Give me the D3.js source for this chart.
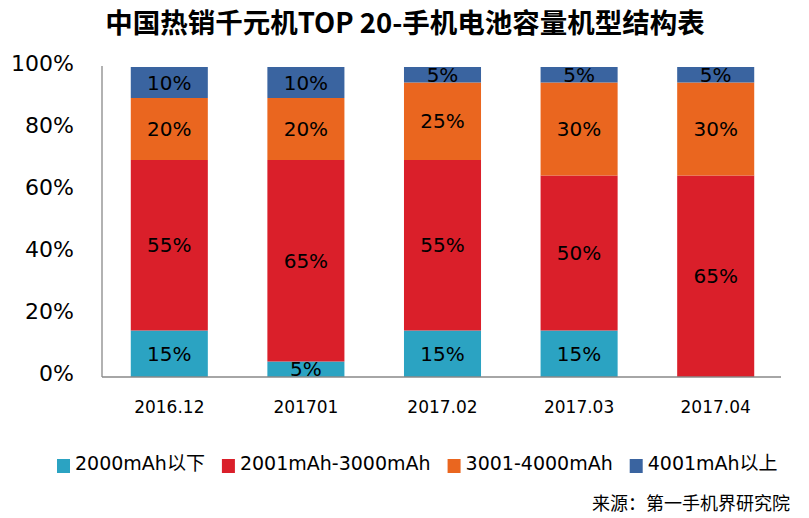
<!DOCTYPE html>
<html>
<head>
<meta charset="utf-8">
<script src="https://d3js.org/d3.v7.min.js"></script>
<style>
  body { margin: 0; background: #fff; }
  text { font-family: "DejaVu Sans", "Noto Sans CJK SC", sans-serif; }
</style>
</head>
<body>
<div id="chart"></div>
<script>
var categories = ["2016.12", "201701", "2017.02", "2017.03", "2017.04"];
var seriesNames = ["2000mAh以下", "2001mAh-3000mAh", "3001-4000mAh", "4001mAh以上"];
var below2000 = [15, 5, 15, 15, 0];
var from2001 = [55, 65, 55, 50, 65];
var from3001 = [20, 20, 25, 30, 30];
var above4001 = [10, 10, 5, 5, 5];
var yTicks = [0, 20, 40, 60, 80, 100];
var colors = ["#2ba3c2", "#da1f2a", "#ea661f", "#3a64a0"];

var w = 809, h = 518;

var svg = d3.select("#chart").append("svg")
    .attr("width", w)
    .attr("height", h);

var table = categories.map(function(c, i) {
  return { cat: c, s0: below2000[i], s1: from2001[i], s2: from3001[i], s3: above4001[i] };
});
var keys = ["s0", "s1", "s2", "s3"];
var stacked = d3.stack().keys(keys)(table);

var x = d3.scaleBand().domain(categories).range([101, 784]).paddingInner(0.436).paddingOuter(0.218);
var y = d3.scaleLinear().domain([0, 100]).range([377, 67]);

// title
svg.append("text")
    .attr("x", 405)
    .attr("y", 33)
    .attr("text-anchor", "middle")
    .style("font-family", "'Noto Sans CJK SC', sans-serif")
    .style("font-weight", "bold")
    .style("font-size", "27.5px")
    .text("中国热销千元机TOP 20-手机电池容量机型结构表");

// bars
var layer = svg.selectAll("g.layer")
    .data(stacked)
  .enter().append("g")
    .attr("class", "layer")
    .attr("fill", function(d, i) { return colors[i]; });

layer.selectAll("rect")
    .data(function(d) { return d; })
  .enter().append("rect")
    .attr("x", function(d) { return x(d.data.cat); })
    .attr("y", function(d) { return y(d[1]); })
    .attr("width", x.bandwidth())
    .attr("height", function(d) { return y(d[0]) - y(d[1]); });

layer.selectAll("text")
    .data(function(d) { return d.filter(function(p) { return p[1] - p[0] > 0; }); })
  .enter().append("text")
    .attr("x", function(d) { return x(d.data.cat) + x.bandwidth() / 2; })
    .attr("y", function(d) { return y((d[0] + d[1]) / 2); })
    .attr("dy", "0.36em")
    .attr("text-anchor", "middle")
    .attr("fill", "#000")
    .style("font-size", "20px")
    .text(function(d) { return (d[1] - d[0]) + "%"; });

// axes
var yAxis = svg.append("g")
    .attr("transform", "translate(102,0)")
    .call(d3.axisLeft(y).tickValues(yTicks).tickSize(0).tickPadding(28)
      .tickFormat(function(d) { return d + "%"; }));
yAxis.select(".domain").attr("stroke", "#898989").attr("stroke-width", 1.3).attr("d", "M0,66V377");
yAxis.selectAll("text")
    .attr("dy", "0.15em")
    .style("font-size", "22px")
    .style("font-family", "'DejaVu Sans', sans-serif")
    .attr("fill", "#000");

var xAxis = svg.append("g")
    .attr("transform", "translate(0,377)")
    .call(d3.axisBottom(x).tickSize(0).tickPadding(24));
xAxis.select(".domain").attr("stroke", "#898989").attr("stroke-width", 1.3).attr("d", "M102,0H781");
xAxis.selectAll("text")
    .style("font-size", "17px")
    .style("font-family", "'DejaVu Sans', sans-serif")
    .attr("fill", "#000");

// legend
var lx = 57;
var legend = svg.append("g");
seriesNames.forEach(function(name, i) {
  legend.append("rect")
      .attr("x", lx)
      .attr("y", 459)
      .attr("width", 13)
      .attr("height", 14)
      .attr("fill", colors[i]);
  var t = legend.append("text")
      .attr("x", lx + 18)
      .attr("y", 470)
      .style("font-size", "19px")
      .attr("fill", "#000")
      .text(name);
  lx += 18 + t.node().getComputedTextLength() + 17;
});

// source
svg.append("text")
    .attr("x", 790)
    .attr("y", 510)
    .attr("text-anchor", "end")
    .style("font-family", "'Noto Sans CJK SC', sans-serif")
    .style("font-size", "18px")
    .text("来源：第一手机界研究院");
</script>
</body>
</html>
